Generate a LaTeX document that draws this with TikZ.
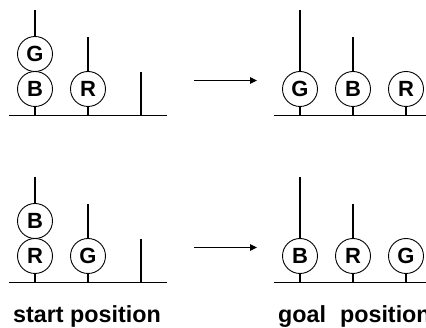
\documentclass[tikz,border=0pt]{standalone}
\usepackage{fontspec}
\setmainfont{Liberation Sans}
\usetikzlibrary{arrows.meta}
\begin{document}
\begin{tikzpicture}[x=1pt,y=-1pt,
  disc/.style={circle,draw,line width=0.9pt,fill=white,minimum size=35pt,inner sep=0pt,font=\fontsize{22}{22}\selectfont\bfseries},
  rod/.style={line width=1.3pt},
  baseline/.style={line width=1.3pt},
  move/.style={line width=1.1pt,-{Triangle[length=7pt,width=6.5pt]}},
  caption/.style={anchor=base west,inner sep=0pt,font=\fontsize{23.3}{23.3}\selectfont\bfseries}]
\useasboundingbox (0,0) rectangle (426,328);
% ---------- top start ----------
\coordinate (tsL) at (9,115.5); \coordinate (tsR) at (167,115.5);
\draw[baseline] (tsL) -- (tsR);
\coordinate (tsp1t) at (35,10);  \coordinate (tsp1b) at (35,115.5);
\coordinate (tsp2t) at (88,37);  \coordinate (tsp2b) at (88,115.5);
\coordinate (tsp3t) at (141,72); \coordinate (tsp3b) at (141,115.5);
\draw[rod] (tsp1t) -- (tsp1b);
\draw[rod] (tsp2t) -- (tsp2b);
\draw[rod] (tsp3t) -- (tsp3b);
\node[disc] (tsG) at (35,54) {G};
\node[disc] (tsB) at (35,89) {B};
\node[disc] (tsR1) at (88,89) {R};
% ---------- top goal ----------
\coordinate (tgL) at (274,115.5); \coordinate (tgR) at (426,115.5);
\draw[baseline] (tgL) -- (tgR);
\coordinate (tgp1t) at (300,10);  \coordinate (tgp1b) at (300,115.5);
\coordinate (tgp2t) at (353,37);  \coordinate (tgp2b) at (353,115.5);
\coordinate (tgp3t) at (406,72);  \coordinate (tgp3b) at (406,115.5);
\draw[rod] (tgp1t) -- (tgp1b);
\draw[rod] (tgp2t) -- (tgp2b);
\draw[rod] (tgp3t) -- (tgp3b);
\node[disc] (tgG) at (300,89) {G};
\node[disc] (tgB) at (353,89) {B};
\node[disc] (tgR1) at (406,89) {R};
% top arrow
\coordinate (ta1) at (194,80.5); \coordinate (ta2) at (257,80.5);
\draw[move] (ta1) -- (ta2);
% ---------- bottom start ----------
\coordinate (bsL) at (9,282.5); \coordinate (bsR) at (167,282.5);
\draw[baseline] (bsL) -- (bsR);
\coordinate (bsp1t) at (35,177);  \coordinate (bsp1b) at (35,282.5);
\coordinate (bsp2t) at (88,204);  \coordinate (bsp2b) at (88,282.5);
\coordinate (bsp3t) at (141,239); \coordinate (bsp3b) at (141,282.5);
\draw[rod] (bsp1t) -- (bsp1b);
\draw[rod] (bsp2t) -- (bsp2b);
\draw[rod] (bsp3t) -- (bsp3b);
\node[disc] (bsB) at (35,221) {B};
\node[disc] (bsR1) at (35,256) {R};
\node[disc] (bsG) at (88,256) {G};
% ---------- bottom goal ----------
\coordinate (bgL) at (274,282.5); \coordinate (bgR) at (426,282.5);
\draw[baseline] (bgL) -- (bgR);
\coordinate (bgp1t) at (300,177);  \coordinate (bgp1b) at (300,282.5);
\coordinate (bgp2t) at (353,204);  \coordinate (bgp2b) at (353,282.5);
\coordinate (bgp3t) at (406,239);  \coordinate (bgp3b) at (406,282.5);
\draw[rod] (bgp1t) -- (bgp1b);
\draw[rod] (bgp2t) -- (bgp2b);
\draw[rod] (bgp3t) -- (bgp3b);
\node[disc] (bgB) at (300,256) {B};
\node[disc] (bgR1) at (353,256) {R};
\node[disc] (bgG) at (406,256) {G};
% bottom arrow
\coordinate (ba1) at (194,247.5); \coordinate (ba2) at (257,247.5);
\draw[move] (ba1) -- (ba2);
% captions
\node[caption] (startcap) at (13,323) {start position};
\node[caption] (goalcap) at (278,323) {goal\hspace{14pt}position};
\end{tikzpicture}
\end{document}
